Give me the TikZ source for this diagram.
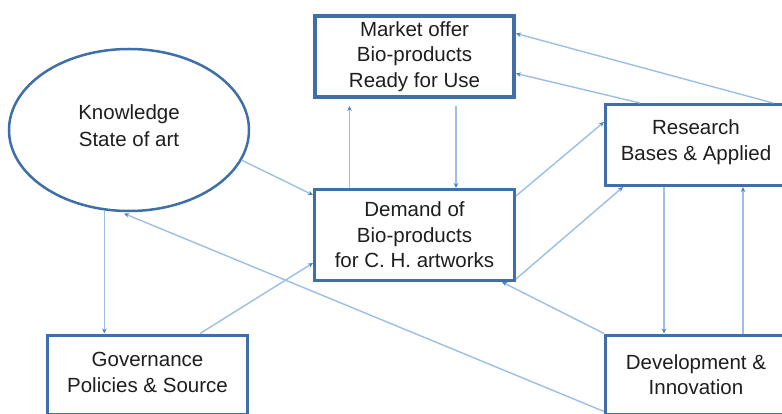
\documentclass[tikz,border=0pt]{standalone}
\usepackage{fontspec}
\setmainfont{Liberation Sans}
\usetikzlibrary{arrows.meta,shapes.geometric,calc}
\definecolor{boxc}{HTML}{3F6FA8}
\definecolor{linec}{HTML}{9BBFE5}
\definecolor{tipc}{HTML}{4F81BD}
\definecolor{txtc}{HTML}{1E1E1E}
\tikzset{
  box/.style={draw=boxc, line width=3pt, rectangle, inner sep=0pt, align=center,
    text=txtc, font=\fontsize{20.5}{25.5}\selectfont},
  ell/.style={draw=boxc, line width=2.5pt, ellipse, inner sep=0pt, align=center,
    text=txtc, font=\fontsize{20.5}{27}\selectfont},
  conn/.style={draw=linec, line width=1.4pt, -{Stealth[length=5pt,width=4.5pt,color=tipc]}},
}
\begin{document}
\begin{tikzpicture}[x=1pt,y=-1pt]
\useasboundingbox (0,0) rectangle (782,414);
\clip (0,0) rectangle (782,414);
\fill[white] (0,0) rectangle (782,414);
% nodes
\node[ell, minimum width=240pt, minimum height=162pt] (ell) at (129,130) {Knowledge\\State of art\\[-19pt]\mbox{}};
\node[box, line width=4pt, minimum width=199pt, minimum height=81pt] (mkt) at (414.5,56.5) {Market offer\\Bio-products\\Ready for Use};
\node[box, minimum width=200pt, minimum height=91pt] (dem) at (414.5,235) {Demand of\\Bio-products\\for C. H. artworks};
\node[box, minimum width=181pt, minimum height=81pt] (res) at (696,145) {Research\\Bases \& Applied\\[-15.5pt]\mbox{}};
\node[box, minimum width=181pt, minimum height=79pt] (dev) at (696,374.5) {Development \&\\Innovation};
\node[box, minimum width=200pt, minimum height=79pt] (gov) at (147.5,374.5) {Governance\\Policies \& Source\\[-21pt]\mbox{}};
% connectors
\draw[conn] (ell.-15) -- ([yshift=-7pt]dem.north west);
\draw[conn] (ell.-107) -- (ell.-107 |- gov.north);
\draw[conn] ([xshift=52.5pt]gov.north) -- ([yshift=-28pt]dem.west);
\draw[conn, shorten >=4pt] ([yshift=4pt]dev.south west) -- (ell.-96);
\draw[conn, shorten >=7pt] ([xshift=-65pt]dem.north) -- ([xshift=-65pt]dem.north |- mkt.south);
\draw[conn, shorten <=7pt] ([xshift=41.5pt]dem.north |- mkt.south) -- ([xshift=41.5pt]dem.north);
\draw[conn] ([yshift=-8pt]dem.north east) -- ([yshift=-19pt]res.north west);
\draw[conn] ([yshift=3pt]dem.south east) -- ([xshift=19pt]res.south west);
\draw[conn] (dev.north west) -- ([xshift=-14pt]dem.south east);
\draw[conn] ([xshift=60pt]res.south west) -- ([xshift=60pt]res.south west |- dev.north);
\draw[conn] ([xshift=139pt]dev.north west) -- ([xshift=139pt]dev.north west |- res.south);
\draw[conn] ([xshift=36pt]res.north west) -- ([yshift=-17pt]mkt.east);
\draw[conn] ([xshift=169pt]res.north west) -- ([yshift=23pt]mkt.east);
\end{tikzpicture}
\end{document}
